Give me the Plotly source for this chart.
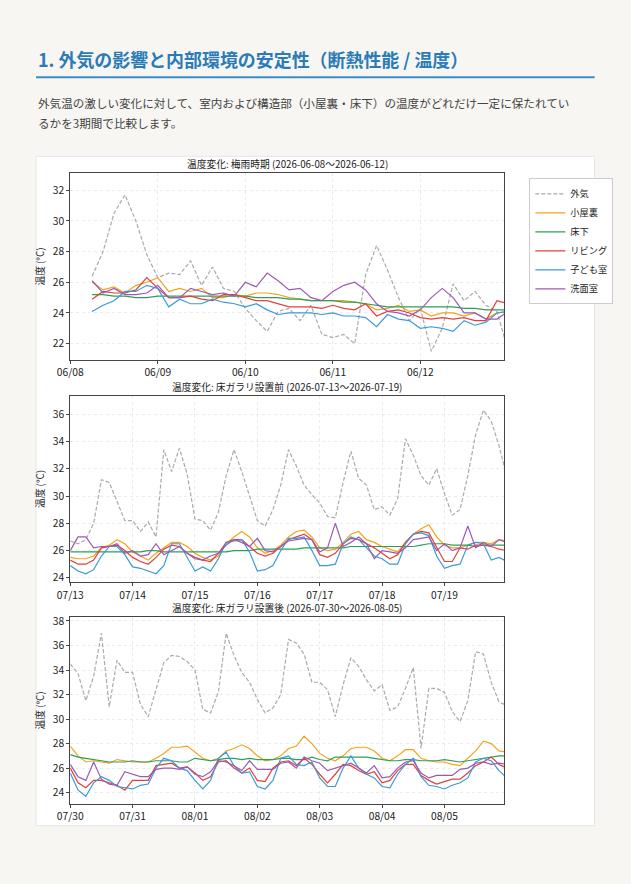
import pandas as pd
import plotly.graph_objects as go

names = ["外気", "小屋裏", "床下", "リビング", "子ども室", "洗面室"]
colors = ["#aaaaaa", "#f5a21b", "#2ca05a", "#e0413a", "#3a9ad9", "#9b59b6"]

# Panel 1: 梅雨時期, 3h steps from 2026-06-08 06:00
p1_out = [26.4, 28.0, 30.5, 31.7, 30.0, 27.8,
          26.3, 26.6, 26.5, 27.4, 25.8, 27.0, 25.6, 25.4,
          24.3, 23.5, 22.8, 24.1, 24.3, 23.5, 24.5, 22.6,
          22.4, 22.6, 22.0, 26.5, 28.4, 26.8, 25.0, 23.5,
          24.3, 21.5, 23.0, 25.9, 24.8, 25.4, 24.5, 24.1, 21.6]
p1_attic = [26.0, 25.5, 25.7, 25.3, 25.8, 26.0,
            26.3, 25.4, 25.6, 25.4, 25.6, 25.0, 25.0, 25.2,
            25.1, 25.3, 25.3, 25.2, 25.0, 24.9, 24.8, 24.8,
            24.8, 24.8, 24.7, 24.6, 24.2, 24.3, 24.5, 24.1,
            24.2, 23.8, 24.0, 24.0, 23.8, 24.0, 23.6, 24.0, 24.1]
p1_floor = [25.2, 25.2, 25.1, 25.1, 25.0, 25.0,
            25.1, 25.1, 25.1, 25.1, 25.1, 25.1, 25.1, 25.1,
            25.1, 25.0, 25.0, 25.0, 24.9, 24.9, 24.8, 24.8,
            24.8, 24.7, 24.7, 24.6, 24.5, 24.4, 24.4, 24.4,
            24.4, 24.4, 24.4, 24.4, 24.3, 24.3, 24.2, 24.2, 24.2]
p1_living = [24.9, 25.4, 25.3, 25.3, 25.5, 26.3,
             25.6, 25.0, 25.0, 25.1, 24.9, 24.8, 25.2, 25.2,
             25.0, 24.8, 24.8, 24.6, 24.4, 24.4, 24.4, 24.3,
             24.5, 24.3, 24.2, 24.6, 23.8, 24.1, 24.2, 24.0,
             23.7, 23.6, 23.7, 23.6, 23.7, 23.5, 23.5, 24.8, 24.6]
p1_kids = [24.1, 24.5, 24.8, 25.4, 25.4, 25.8,
           25.6, 24.4, 24.9, 24.6, 24.6, 24.9, 24.7, 24.6,
           24.4, 24.6, 24.2, 23.9, 24.0, 24.0, 24.0, 23.9,
           24.0, 23.8, 23.8, 23.7, 23.1, 23.9, 23.6, 23.5,
           23.0, 23.1, 23.0, 22.8, 23.5, 23.2, 23.4, 24.0, 24.1]
p1_wash = [26.1, 25.3, 25.6, 25.2, 25.2, 25.3,
           25.8, 25.0, 25.0, 25.6, 25.4, 25.2, 25.3, 25.1,
           26.0, 25.7, 26.6, 26.1, 25.5, 25.6, 25.0, 24.8,
           25.4, 25.8, 26.0, 25.5, 24.6, 24.1, 24.0, 23.8,
           24.2, 25.0, 25.6, 25.0, 24.0, 24.0, 23.6, 23.6, 24.1]

# Panel 2: 床ガラリ設置前, 3h steps from 2026-07-13 00:00
p2_out = [26.7, 26.5, 26.8, 28.0, 31.2, 31.0, 29.6, 28.2,
          28.2, 27.4, 28.1, 27.0, 33.4, 31.8, 33.5, 31.6,
          28.3, 28.2, 27.5, 28.8, 31.5, 33.4, 31.8, 30.0,
          28.2, 27.8, 29.0, 30.8, 33.4, 32.2, 30.8, 30.1,
          29.5, 28.5, 28.4, 31.0, 33.3, 31.3, 30.8, 29.0,
          29.2, 28.6, 29.8, 34.2, 33.0, 31.5, 30.8, 32.0,
          30.2, 28.6, 29.0, 31.5, 34.5, 36.3, 35.5, 33.7, 31.4]
p2_attic = [25.5, 25.4, 25.4, 25.6, 26.2, 26.4, 26.8, 26.5,
            25.9, 25.6, 25.3, 25.8, 26.2, 26.6, 26.6, 26.3,
            25.8, 25.5, 25.3, 25.6, 26.5, 27.0, 27.4, 27.0,
            26.2, 25.8, 26.0, 26.4, 27.0, 27.4, 27.5, 27.0,
            26.2, 26.0, 26.1, 26.6, 27.2, 27.4, 26.8, 26.6,
            26.3, 26.1, 25.9, 26.6, 27.2, 27.6, 27.9, 27.0,
            26.4, 26.2, 26.2, 26.4, 26.6, 26.6, 26.5, 26.8, 26.7]
p2_floor = [25.9, 25.9, 25.9, 25.9, 25.9, 25.9, 25.9, 25.9,
            25.9, 25.9, 26.0, 26.0, 25.9, 25.9, 25.9, 25.9,
            25.9, 25.9, 25.9, 25.9, 25.9, 26.0, 26.0, 26.0,
            26.1, 26.1, 26.1, 26.1, 26.1, 26.1, 26.2, 26.2,
            26.2, 26.2, 26.2, 26.2, 26.3, 26.3, 26.3, 26.3,
            26.3, 26.3, 26.3, 26.3, 26.3, 26.4, 26.5, 26.5,
            26.5, 26.4, 26.4, 26.4, 26.3, 26.4, 26.4, 26.4, 26.4]
p2_living = [25.3, 25.0, 25.0, 25.3, 26.2, 26.3, 26.4, 26.0,
             25.5, 25.2, 25.0, 25.5, 26.1, 26.4, 26.3, 25.8,
             25.5, 25.3, 25.2, 25.8, 26.6, 26.8, 26.8, 26.3,
             25.8, 25.6, 25.8, 26.3, 26.8, 27.0, 27.2, 26.8,
             25.7, 25.5, 25.8, 26.5, 26.9, 26.8, 26.5, 26.2,
             25.8, 25.4, 25.7, 26.6, 27.2, 27.4, 27.3, 26.2,
             25.2, 25.2, 26.2, 26.1, 26.4, 26.4, 26.3, 26.1, 26.0]
p2_kids = [24.9, 24.5, 24.3, 24.6, 25.6, 26.3, 26.3, 25.7,
           24.8, 24.7, 24.5, 24.3, 24.9, 26.5, 26.5, 25.5,
           24.5, 24.8, 24.5, 25.4, 26.6, 26.7, 26.8, 25.9,
           24.5, 24.6, 24.9, 26.0, 26.9, 26.9, 27.0, 26.0,
           24.9, 24.9, 25.0, 26.5, 27.0, 26.8, 26.2, 25.6,
           25.4, 25.0, 25.0, 26.5, 27.2, 27.3, 27.1, 25.6,
           24.7, 24.9, 25.0, 26.4, 26.6, 26.5, 25.3, 25.5, 25.2]
p2_wash = [26.0, 27.0, 27.0, 26.2, 26.3, 26.3, 26.5, 25.8,
           26.0, 25.6, 25.7, 26.5, 25.7, 26.0, 26.3, 25.8,
           25.4, 25.3, 25.6, 25.8, 26.4, 26.8, 26.6, 26.3,
           26.9, 26.0, 25.9, 26.3, 26.7, 26.8, 26.9, 26.8,
           25.9, 26.2, 28.0, 26.3, 26.6, 27.0, 26.5, 25.4,
           26.0, 25.9, 25.8, 26.2, 26.8, 26.9, 27.0, 26.0,
           26.5, 26.0, 26.2, 27.8, 26.2, 26.6, 26.3, 26.8, 26.6]

# Panel 3: 床ガラリ設置後, 3h steps from 2026-07-30 00:00
p3_out = [34.5, 33.7, 31.5, 33.5, 37.0, 31.0, 34.8, 33.8,
          33.8, 31.2, 30.2, 32.3, 34.6, 35.2, 35.1, 34.7,
          34.0, 30.8, 30.5, 32.2, 37.0, 35.2, 33.8, 33.0,
          31.6, 30.5, 30.9, 32.0, 36.5, 36.2, 35.3, 33.0,
          33.0, 32.4, 30.2, 32.8, 35.0, 34.3, 33.2, 32.3,
          32.8, 30.7, 31.0, 32.5, 34.2, 27.6, 32.5, 32.5,
          32.2, 30.6, 29.8, 31.5, 35.5, 35.3, 33.0, 31.4, 31.1]
p3_attic = [27.8, 27.0, 26.5, 26.6, 26.5, 26.4, 26.7, 26.6,
            26.5, 26.5, 26.5, 26.8, 27.2, 27.7, 27.7, 27.8,
            27.3, 26.8, 26.6, 26.8, 27.4, 27.6, 27.9, 27.6,
            27.0, 26.6, 26.7, 27.0, 27.6, 27.8, 28.6, 28.0,
            27.2, 26.8, 26.6, 27.0, 27.6, 27.7, 27.7, 27.4,
            26.8, 26.6, 27.0, 27.5, 27.5, 26.8, 26.6, 26.5,
            26.5, 26.3, 26.2, 26.8, 27.4, 28.2, 28.0, 27.4, 27.3]
p3_floor = [27.1, 26.9, 26.8, 26.7, 26.6, 26.5, 26.5, 26.5,
            26.6, 26.5, 26.5, 26.6, 26.6, 26.6, 26.5, 26.5,
            26.8, 26.7, 26.6, 26.7, 26.8, 26.8, 26.7, 26.8,
            26.7, 26.7, 26.7, 26.8, 26.8, 26.7, 26.7, 26.9,
            26.7, 26.6, 26.9, 26.9, 26.9, 26.9, 26.9, 26.8,
            26.7, 26.6, 26.6, 26.7, 26.7, 26.6, 26.6, 26.6,
            26.7, 26.6, 26.5, 26.6, 26.7, 26.8, 26.9, 27.0, 27.0]
p3_living = [26.0, 24.8, 24.4, 25.0, 25.0, 24.8, 24.6, 24.2,
             25.0, 25.0, 25.0, 26.2, 26.3, 26.4, 26.0, 26.1,
             25.6, 25.0, 25.3, 26.5, 26.6, 26.0, 25.6, 26.0,
             25.0, 24.9, 26.0, 26.5, 26.6, 26.2, 26.8, 26.3,
             25.5, 24.8, 25.5, 26.3, 26.2, 25.8, 25.5, 25.7,
             24.8, 25.0, 25.8, 26.3, 26.3, 25.4, 25.0, 24.7,
             24.9, 25.1, 25.1, 25.6, 26.2, 26.5, 26.9, 26.3, 26.0]
p3_kids = [25.6, 24.2, 23.7, 24.8, 25.3, 25.0, 24.5, 24.4,
           24.3, 24.6, 24.7, 26.0, 26.8, 26.6, 26.0, 25.8,
           25.0, 24.3, 25.0, 26.8, 27.3, 26.2, 25.6, 25.7,
           24.5, 24.3, 25.0, 26.8, 27.0, 26.3, 26.2, 26.5,
           25.2, 24.5, 24.5, 26.0, 27.0, 26.0, 25.5, 25.2,
           24.5, 24.4, 25.5, 26.3, 26.8, 25.3, 24.6, 24.5,
           24.3, 24.6, 24.8, 25.2, 26.5, 26.8, 26.6, 25.8, 25.2]
p3_wash = [26.3, 25.3, 25.0, 26.5, 25.1, 24.7, 24.6, 25.7,
           25.5, 25.3, 25.3, 25.9, 26.0, 26.0, 25.9, 26.1,
           25.5, 25.3, 25.7, 26.6, 26.5, 26.2, 25.8, 26.6,
           25.9, 25.9, 25.9, 26.4, 26.5, 26.0, 26.9, 26.6,
           26.4, 25.8, 26.0, 26.2, 26.4, 26.0, 25.6, 26.2,
           25.2, 25.3, 26.0, 26.5, 26.6, 25.6, 25.2, 25.4,
           25.4, 25.4, 25.9, 26.0, 26.4, 26.5, 26.3, 26.4, 26.3]

panels = [
    dict(title="温度変化: 梅雨時期 (2026-06-08～2026-06-12)", start="2026-06-08 06:00",
         xr=["2026-06-08", "2026-06-12 23:00"], yr=[20.95, 33.1], dt=2, y0=22,
         series=[p1_out, p1_attic, p1_floor, p1_living, p1_kids, p1_wash], top=172, bot=358),
    dict(title="温度変化: 床ガラリ設置前 (2026-07-13～2026-07-19)", start="2026-07-13 00:00",
         xr=["2026-07-13", "2026-07-19 23:00"], yr=[23.68, 37.35], dt=2, y0=24,
         series=[p2_out, p2_attic, p2_floor, p2_living, p2_kids, p2_wash], top=394, bot=580),
    dict(title="温度変化: 床ガラリ設置後 (2026-07-30～2026-08-05)", start="2026-07-30 00:00",
         xr=["2026-07-30", "2026-08-05 23:00"], yr=[23.1, 38.3], dt=2, y0=24,
         series=[p3_out, p3_attic, p3_floor, p3_living, p3_kids, p3_wash], top=615, bot=801),
]

W, H = 631, 884
FONT = "Noto Sans CJK JP"
S = 1 / 0.975  # font compensation


def X(px):
    return (px - 13) / 0.975 / W


def Y(px):
    return 1 - (px - 4) / 0.99 / H


fig = go.Figure()
layout = {}
annotations = []
xl, xr_ = X(70), X(502)

for i, p in enumerate(panels):
    ax = "" if i == 0 else str(i + 1)
    for j, s in enumerate(p["series"]):
        t = pd.date_range(p["start"], periods=len(s), freq="3h")
        fig.add_trace(go.Scatter(
            x=t, y=s, mode="lines", name=names[j], showlegend=(i == 0),
            line=dict(color=colors[j], width=1.2, dash="4px,2px" if j == 0 else "solid"),
            xaxis="x" + ax, yaxis="y" + ax))
    layout["xaxis" + ax] = dict(
        domain=[xl, xr_], anchor="y" + ax, range=p["xr"], type="date",
        dtick=86400000, tickformat="%m/%d", showline=True, mirror=True,
        linecolor="#444", linewidth=1, ticks="outside", ticklen=3, tickcolor="#444",
        showgrid=True, gridcolor="#ebebeb", griddash="dot",
        tickfont=dict(size=10 * S, color="#222", family=FONT), zeroline=False)
    layout["yaxis" + ax] = dict(
        domain=[Y(p["bot"]), Y(p["top"])], anchor="x" + ax, range=p["yr"], dtick=p["dt"], tick0=p["y0"],
        showline=True, mirror=True, linecolor="#444", linewidth=1,
        ticks="outside", ticklen=3, tickcolor="#444",
        showgrid=True, gridcolor="#ebebeb", griddash="dot", zeroline=False,
        tickfont=dict(size=10 * S, color="#222", family=FONT),
        title=dict(text="温度 (°C)", font=dict(size=9.5 * S, color="#222", family=FONT), standoff=6))
    annotations.append(dict(text=p["title"], x=(xl + xr_) / 2, y=Y(p["top"] - 9),
                            xref="paper", yref="paper", yanchor="middle", showarrow=False,
                            font=dict(size=9.5 * S, color="#222", family=FONT)))

annotations += [
    dict(text="<b>1. 外気の影響と内部環境の安定性（断熱性能 / 温度）</b>", x=X(36), y=Y(58),
         xref="paper", yref="paper", xanchor="left", yanchor="middle", showarrow=False,
         font=dict(size=17.5 * S, color="#2a7bb8", family=FONT)),
    dict(text="外気温の激しい変化に対して、室内および構造部（小屋裏・床下）の温度がどれだけ一定に保たれてい",
         x=X(36), y=Y(102), xref="paper", yref="paper", xanchor="left", yanchor="middle",
         showarrow=False, font=dict(size=11.3 * S, color="#444", family=FONT)),
    dict(text="るかを3期間で比較します。", x=X(36), y=Y(122), xref="paper", yref="paper",
         xanchor="left", yanchor="middle", showarrow=False, font=dict(size=11.3 * S, color="#444", family=FONT)),
]

shapes = [
    dict(type="line", xref="paper", yref="paper", x0=X(36), x1=X(592), y0=Y(76), y1=Y(76),
         line=dict(color="#3a8cc8", width=2)),
    dict(type="rect", xref="paper", yref="paper", x0=X(36), x1=X(592), y0=Y(823), y1=Y(155),
         fillcolor="white", line=dict(color="#e6e6e6", width=1), layer="below"),
]

fig.update_layout(
    width=W, height=H, margin=dict(l=0, r=0, t=0, b=0), autosize=False,
    paper_bgcolor="#f7f6f2", plot_bgcolor="white",
    font=dict(family=FONT), annotations=annotations, shapes=shapes,
    legend=dict(x=X(527), y=Y(177), xanchor="left", yanchor="top",
                bgcolor="white", bordercolor="#cccccc", borderwidth=1,
                font=dict(size=9 * S, color="#222", family=FONT), tracegroupgap=0, itemwidth=30),
    **layout)

fig.write_html("out.html", config={"responsive": False, "displayModeBar": False},
               post_script="document.body.style.margin='0';document.body.style.overflow='hidden';"
                           "document.body.style.background='#f7f6f2';")
